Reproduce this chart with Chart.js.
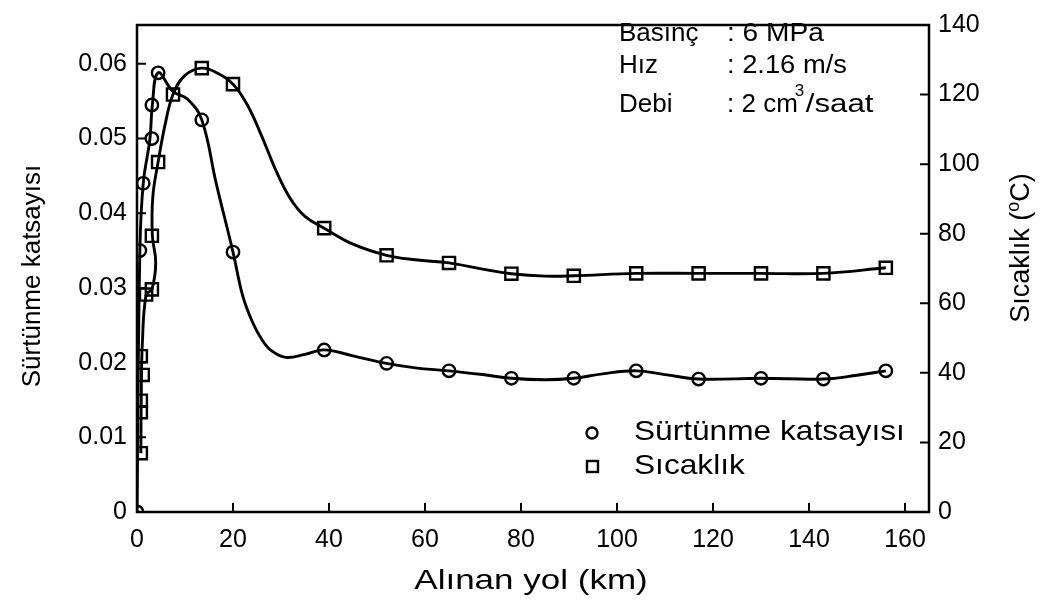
<!DOCTYPE html>
<html>
<head>
<meta charset="utf-8">
<script src="https://cdn.jsdelivr.net/npm/chart.js@4"></script>
<style>
  html, body { margin: 0; padding: 0; background: #fff; }
  #wrap { width: 1047px; height: 606px; }
</style>
</head>
<body>
<div id="wrap"><canvas id="myChart" width="1047" height="606"></canvas></div>
<script>
// measured points (km, friction coefficient)
const frictionKm = [0, 0.6, 1.3, 3.1, 3.1, 4.4, 13.5, 20, 39, 52, 65, 78, 91, 104, 117, 130, 143, 156];
const friction = [0, 0.035, 0.044, 0.050, 0.0545, 0.0588, 0.0525, 0.0348, 0.0217, 0.0199, 0.0189, 0.0179, 0.0179, 0.0189, 0.0178, 0.0179, 0.0178, 0.0189];
// measured points (km, temperature °C)
const tempKm = [0.8, 0.8, 0.8, 1.2, 0.8, 1.9, 3.1, 3.1, 4.4, 7.5, 13.5, 20, 39, 52, 65, 78, 91, 104, 117, 130, 143, 156];
const temp = [16.9, 28.7, 32, 39.4, 44.8, 62.5, 64, 79.4, 100.6, 120, 127.6, 123, 81.6, 73.8, 71.6, 68.5, 67.9, 68.6, 68.6, 68.6, 68.6, 70.2];
// fitted curves
const frictionFitKm = [0, 0.6, 1.3, 2.7, 3.2, 4.4, 7.5, 10.5, 13.5, 16.5, 20, 22, 24, 26, 28, 31, 35, 39, 45, 52, 58, 65, 72, 78, 85, 91, 97, 104, 110, 117, 130, 143, 150, 156];
const frictionFit = [0, 0.035, 0.044, 0.050, 0.0545, 0.0588, 0.0563, 0.0553, 0.0525, 0.044, 0.0348, 0.029, 0.0255, 0.0231, 0.0216, 0.0207, 0.0211, 0.0217, 0.0209, 0.0199, 0.0193, 0.0189, 0.0184, 0.0179, 0.0177, 0.0179, 0.0185, 0.0189, 0.0184, 0.0178, 0.0179, 0.0178, 0.0183, 0.0189];
const tempFitKm = [0.8, 0.9, 1.1, 1.9, 3.1, 3.9, 3.2, 3.3, 4.4, 5.8, 7.5, 10, 13.5, 17, 20, 23, 26, 29, 32, 35, 39, 45, 52, 58, 65, 72, 78, 85, 91, 104, 117, 130, 143, 156];
const tempFit = [16.9, 35, 48, 62.5, 64, 71.8, 79.4, 90.7, 100.6, 111, 120, 125.5, 127.6, 126, 123, 117, 108, 98, 90, 85, 81.6, 77, 73.8, 72.5, 71.6, 69.8, 68.5, 67.8, 67.9, 68.6, 68.6, 68.6, 68.6, 70.2];

const xTicks = [0, 20, 40, 60, 80, 100, 120, 140, 160];
const yLeftTicks = [0, 0.01, 0.02, 0.03, 0.04, 0.05, 0.06];
const yRightTicks = [0, 20, 40, 60, 80, 100, 120, 140];

function pts(xs, ys) {
    return xs.map((x, i) => ({x: x, y: ys[i]}));
}

const FONT = "'Liberation Sans', Arial, sans-serif";
Chart.defaults.font.family = FONT;
Chart.defaults.font.size = 25;
Chart.defaults.color = '#000';

// text drawn a bit wider than the font, like the scanned figure
function wideText(ctx, txt, x, y, sx) {
    ctx.save();
    ctx.translate(x, y);
    ctx.scale(sx, 1);
    ctx.fillText(txt, 0, 0);
    ctx.restore();
}

// frame, inward ticks, legend, notes, axis titles
const decor = {
    id: 'decor',
    beforeDatasetsDraw(chart) {
        const ctx = chart.ctx;
        const a = chart.chartArea;
        const s = chart.scales;
        ctx.save();
        ctx.strokeStyle = '#000';
        ctx.lineWidth = 2.5;
        ctx.strokeRect(a.left, a.top, a.right - a.left, a.bottom - a.top);
        ctx.lineWidth = 2;
        ctx.beginPath();
        xTicks.forEach(v => {
            const px = s.x.getPixelForValue(v);
            ctx.moveTo(px, a.bottom); ctx.lineTo(px, a.bottom - 9);
        });
        yLeftTicks.forEach(v => {
            const py = s.y.getPixelForValue(v);
            ctx.moveTo(a.left, py); ctx.lineTo(a.left + 9, py);
        });
        yRightTicks.forEach(v => {
            const py = s.y1.getPixelForValue(v);
            ctx.moveTo(a.right, py); ctx.lineTo(a.right - 9, py);
        });
        ctx.stroke();
        ctx.restore();
    },
    afterDraw(chart) {
        const ctx = chart.ctx;
        const a = chart.chartArea;
        ctx.save();
        ctx.fillStyle = '#000';
        ctx.strokeStyle = '#000';
        ctx.textBaseline = 'middle';
        ctx.textAlign = 'left';
        ctx.font = '26px ' + FONT;

        // notes
        ctx.fillText('Basınç', 619, 34);
        wideText(ctx, ': 6 MPa', 727, 34, 1.08);
        ctx.fillText('Hız', 619, 66);
        wideText(ctx, ': 2.16 m/s', 727, 66, 1.05);
        ctx.fillText('Debi', 619, 105);
        ctx.fillText(': 2 cm', 727, 105);
        let w = ctx.measureText(': 2 cm').width;
        ctx.font = '17px ' + FONT;
        ctx.fillText('3', 727 + w - 3, 91);
        ctx.font = '26px ' + FONT;
        wideText(ctx, '/saat', 727 + w + 8, 105, 1.2);

        // legend
        ctx.lineWidth = 2.4;
        ctx.beginPath();
        ctx.arc(592, 433, 5.5, 0, Math.PI * 2);
        ctx.stroke();
        ctx.strokeRect(587, 461, 11, 11);
        ctx.font = '28px ' + FONT;
        wideText(ctx, 'Sürtünme katsayısı', 634, 432, 1.13);
        wideText(ctx, 'Sıcaklık', 634, 466, 1.13);

        // x axis title
        ctx.textAlign = 'center';
        wideText(ctx, 'Alınan yol (km)', (a.left + a.right) / 2 - 2, 581, 1.25);

        // left axis title
        ctx.font = '26px ' + FONT;
        ctx.save();
        ctx.translate(33, 276);
        ctx.rotate(-Math.PI / 2);
        ctx.fillText('Sürtünme katsayısı', 0, 0);
        ctx.restore();

        // right axis title, reads bottom to top
        ctx.translate(1022, 248);
        ctx.rotate(-Math.PI / 2);
        ctx.textAlign = 'left';
        ctx.font = '27px ' + FONT;
        const t1 = 'Sıcaklık (';
        const w1 = ctx.measureText(t1).width;
        ctx.font = '18px ' + FONT;
        const w2 = ctx.measureText('o').width;
        ctx.font = '27px ' + FONT;
        const w3 = ctx.measureText('C)').width;
        let x0 = -(w1 + w2 + w3) / 2;
        ctx.fillText(t1, x0, 0);
        ctx.font = '18px ' + FONT;
        ctx.fillText('o', x0 + w1, -8);
        ctx.font = '27px ' + FONT;
        ctx.fillText('C)', x0 + w1 + w2, 0);
        ctx.restore();
    }
};

const chartArea = document.getElementById('myChart').getContext('2d');
const myChart = new Chart(chartArea, {
    type: 'scatter',
    data: {
        datasets: [
            {
                label: 'Sürtünme katsayısı',
                data: pts(frictionKm, friction),
                yAxisID: 'y',
                showLine: false,
                pointStyle: 'circle',
                pointRadius: 6.2,
                pointBorderWidth: 2.4,
                pointBackgroundColor: 'rgba(0,0,0,0)',
                pointBorderColor: '#000',
                clip: 0
            },
            {
                label: 'Sıcaklık',
                data: pts(tempKm, temp),
                yAxisID: 'y1',
                showLine: false,
                pointStyle: 'rect',
                pointRadius: 8.6,
                pointBorderWidth: 2.4,
                pointBackgroundColor: 'rgba(0,0,0,0)',
                pointBorderColor: '#000'
            },
            {
                label: 'fit1',
                data: pts(frictionFitKm, frictionFit),
                yAxisID: 'y',
                showLine: true,
                pointRadius: 0,
                borderColor: '#000',
                borderWidth: 2.9,
                tension: 0.4
            },
            {
                label: 'fit2',
                data: pts(tempFitKm, tempFit),
                yAxisID: 'y1',
                showLine: true,
                pointRadius: 0,
                borderColor: '#000',
                borderWidth: 2.9,
                tension: 0.4
            }
        ]
    },
    options: {
        responsive: false,
        animation: false,
        layout: { padding: { top: 15 } },
        plugins: {
            legend: { display: false },
            tooltip: { enabled: false }
        },
        scales: {
            x: {
                type: 'linear',
                min: 0,
                max: 165,
                grid: { display: false, drawTicks: false },
                border: { display: false },
                ticks: { stepSize: 20, includeBounds: false, padding: 13, maxRotation: 0 },
                afterFit: (s) => { s.height = 94; }
            },
            y: {
                position: 'left',
                min: 0,
                max: 0.0652,
                grid: { display: false, drawTicks: false },
                border: { display: false },
                ticks: {
                    stepSize: 0.01,
                    includeBounds: false,
                    padding: 10,
                    callback: (v) => String(+v.toFixed(2))
                },
                afterFit: (s) => { s.width = 137; }
            },
            y1: {
                position: 'right',
                min: 0,
                max: 140,
                grid: { display: false, drawTicks: false },
                border: { display: false },
                ticks: { stepSize: 20, padding: 9 },
                afterFit: (s) => { s.width = 118; }
            }
        }
    },
    plugins: [decor]
});
</script>
</body>
</html>
